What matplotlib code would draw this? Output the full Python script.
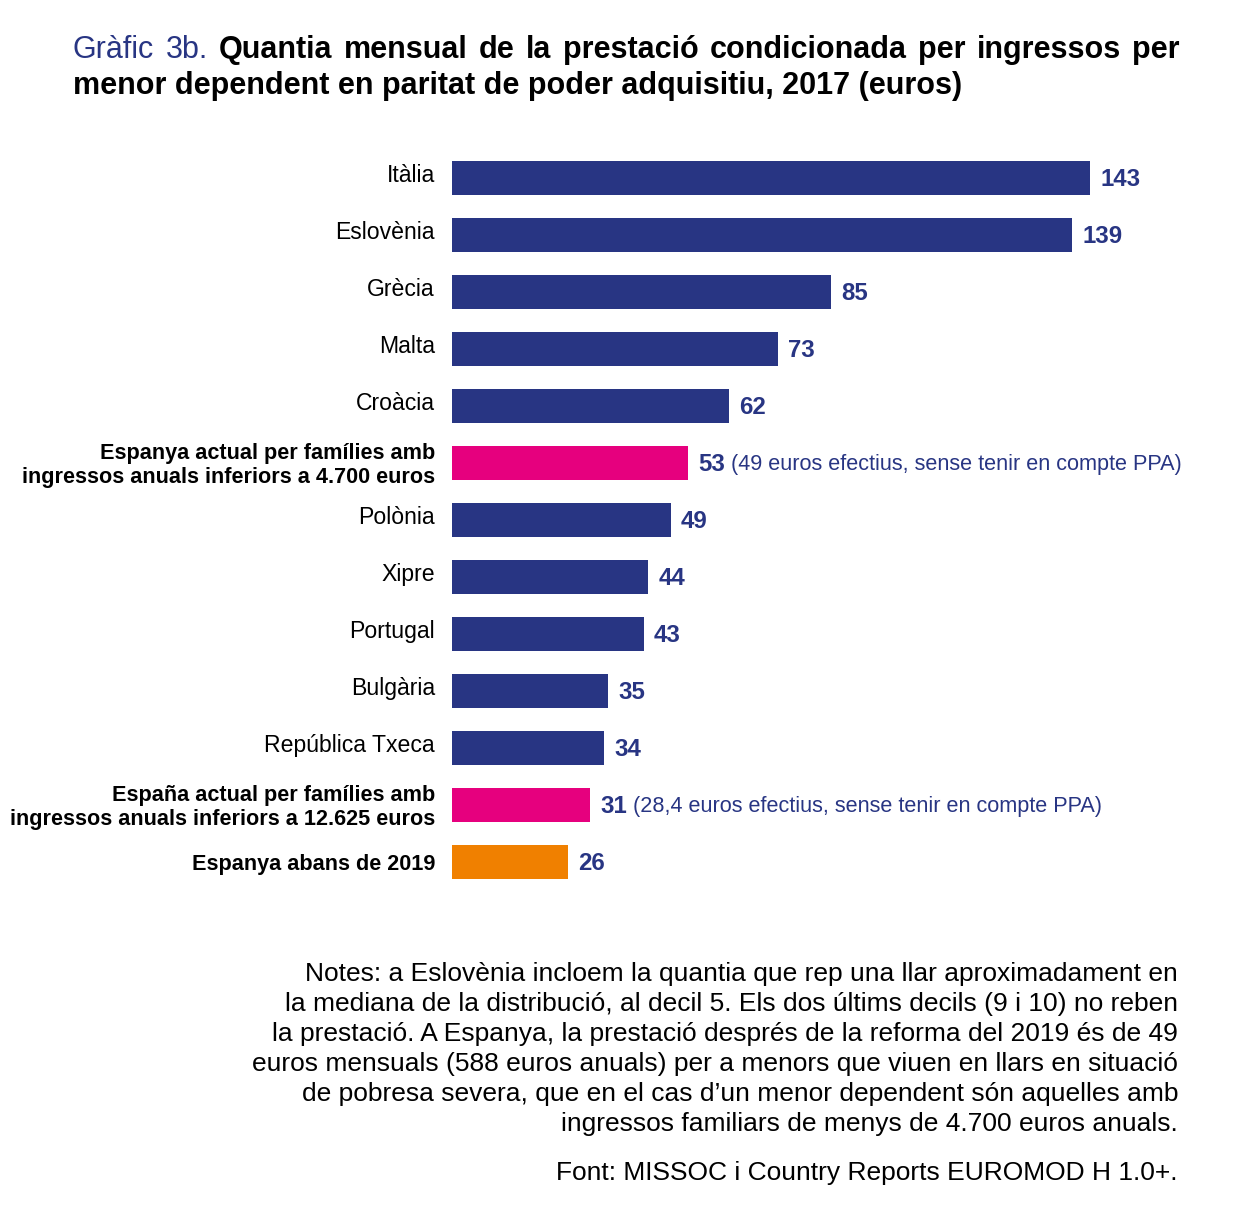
import numpy as np
import matplotlib
matplotlib.use("Agg")
import matplotlib.pyplot as plt

plt.rcParams['font.family'] = ['Liberation Sans', 'DejaVu Sans']

# data
labels = ["Itàlia", "Eslovènia", "Grècia", "Malta", "Croàcia",
          "Espanya actual per famílies amb\ningressos anuals inferiors a 4.700 euros",
          "Polònia", "Xipre", "Portugal", "Bulgària", "República Txeca",
          "España actual per famílies amb\ningressos anuals inferiors a 12.625 euros",
          "Espanya abans de 2019"]
values = [143, 139, 85, 73, 62, 53, 49, 44, 43, 35, 34, 31, 26]
kinds = ["c", "c", "c", "c", "c", "es", "c", "c", "c", "c", "c", "es", "old"]
extra = {5: "(49 euros efectius, sense tenir en compte PPA)",
         11: "(28,4 euros efectius, sense tenir en compte PPA)"}

BLUE = "#283583"
PINK = "#E6007E"
ORANGE = "#F08000"
colors = {"c": BLUE, "es": PINK, "old": ORANGE}

W, H = 1246, 1223
fig = plt.figure(figsize=(W / 100, H / 100), dpi=100)

# axes placed in pixel coords
left, right = 452, 1090
top, bottom = 149.5, 890.5
ax = fig.add_axes([left / W, 1 - bottom / H, (right - left) / W, (bottom - top) / H])

y = np.arange(len(values))
ax.barh(y, values, height=0.58, color=[colors[k] for k in kinds])
ax.set_xlim(0, 143)
ax.set_ylim(len(values) - 0.5, -0.5)
ax.axis("off")

for i, (lab, v, k) in enumerate(zip(labels, values, kinds)):
    bold = k != "c"
    ax.text(-17 / 4.46, i + (0.04 if bold else -0.04), lab, ha="right", va="center",
            fontsize=15.6 if bold else 16.6,
            fontweight="bold" if bold else "normal", color="black",
            linespacing=1.2)
    t = ax.text(v + 2.3, i + 0.03, str(v), ha="left", va="center", fontsize=17.3,
                fontweight="bold", color=BLUE, clip_on=False)
    if i in extra:
        ax.annotate(extra[i], xy=(1, 0.5), xycoords=t, xytext=(4, 0),
                    textcoords="offset points", ha="left", va="center",
                    fontsize=15.6, color=BLUE)

# title, first line justified between 73 and 1180 px
fig.canvas.draw()
renderer = fig.canvas.get_renderer()
words = [("Gràfic", False), ("3b.", False)] + \
    [(w, True) for w in "Quantia mensual de la prestació condicionada per ingressos per".split()]
tmp = []
for w, b in words:
    tt = fig.text(0, 0, w, fontsize=22, fontweight="bold" if b else "normal")
    tmp.append(tt.get_window_extent(renderer).width)
    tt.remove()
gap = (1180 - 73 - sum(tmp)) / (len(words) - 1)
x = 73
for (w, b), wd in zip(words, tmp):
    fig.text(x / W, 1 - 58 / H, w, fontsize=22, fontweight="bold" if b else "normal",
             color="black" if b else BLUE, va="baseline", ha="left")
    x += wd + gap
fig.text(73 / W, 1 - 94 / H,
         "menor dependent en paritat de poder adquisitiu, 2017 (euros)",
         fontsize=22, fontweight="bold", va="baseline", ha="left")

notes = ["Notes: a Eslovènia incloem la quantia que rep una llar aproximadament en",
         "la mediana de la distribució, al decil 5. Els dos últims decils (9 i 10) no reben",
         "la prestació. A Espanya, la prestació després de la reforma del 2019 és de 49",
         "euros mensuals (588 euros anuals) per a menors que viuen en llars en situació",
         "de pobresa severa, que en el cas d’un menor dependent són aquelles amb",
         "ingressos familiars de menys de 4.700 euros anuals."]
for j, line in enumerate(notes):
    fig.text(1178 / W, 1 - (981 + 30 * j) / H, line, fontsize=19,
             ha="right", va="baseline")
fig.text(1178 / W, 1 - 1180 / H, "Font: MISSOC i Country Reports EUROMOD H 1.0+.",
         fontsize=19, ha="right", va="baseline")

fig.savefig("out.png", dpi=100)
